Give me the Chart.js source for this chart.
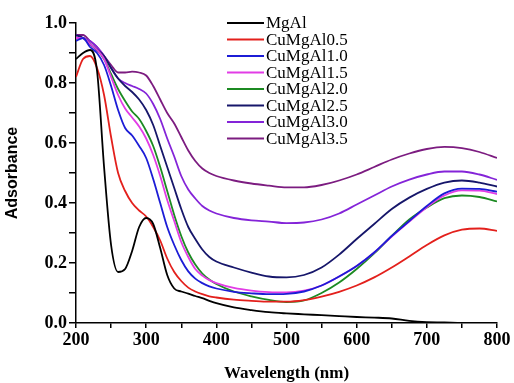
<!DOCTYPE html>
<html>
<head>
<meta charset="utf-8">
<script src="https://cdn.jsdelivr.net/npm/chart.js@4"></script>
<style>
  body { margin: 0; background: #fff; }
</style>
</head>
<body>
<canvas id="myChart" width="514" height="383"></canvas>
<script>
// wavelengths (nm) shared by all spectra
const wavelengths = [200, 210, 220, 230, 240, 250, 260, 270, 280, 290, 300, 310, 320, 330, 340, 350, 360, 370, 380, 390, 400,
  425, 450, 475, 500, 525, 550, 575, 600, 625, 650, 675, 700, 725, 750, 775, 800];

const seriesNames = ["MgAl", "CuMgAl0.5", "CuMgAl1.0", "CuMgAl1.5", "CuMgAl2.0", "CuMgAl2.5", "CuMgAl3.0", "CuMgAl3.5"];
const seriesColors = ["#000000", "#e3201c", "#1c1cd6", "#e23ce6", "#1c8a22", "#16166a", "#8424d8", "#7c1c80"];

const mgAl = [0.88, 0.90, 0.91, 0.84, 0.52, 0.26, 0.17, 0.18, 0.24, 0.32, 0.35, 0.33, 0.25, 0.16, 0.115, 0.105, 0.098, 0.09, 0.083, 0.074, 0.066,
  0.052, 0.043, 0.036, 0.032, 0.029, 0.026, 0.023, 0.02, 0.018, 0.015, 0.007, 0.003, 0.002, 0.0, 0.0, 0.0];
const cu05 = [0.82, 0.88, 0.89, 0.85, 0.76, 0.62, 0.50, 0.44, 0.40, 0.375, 0.355, 0.32, 0.275, 0.215, 0.17, 0.14, 0.118, 0.105, 0.096, 0.089, 0.085,
  0.078, 0.074, 0.071, 0.071, 0.076, 0.088, 0.104, 0.125, 0.152, 0.185, 0.222, 0.26, 0.292, 0.311, 0.315, 0.307];
const cu10 = [0.94, 0.95, 0.92, 0.90, 0.86, 0.79, 0.71, 0.65, 0.625, 0.59, 0.55, 0.48, 0.40, 0.32, 0.26, 0.21, 0.172, 0.148, 0.133, 0.122, 0.115,
  0.104, 0.099, 0.096, 0.097, 0.105, 0.125, 0.155, 0.19, 0.235, 0.29, 0.34, 0.39, 0.432, 0.448, 0.447, 0.438];
const cu15 = [0.95, 0.95, 0.93, 0.91, 0.88, 0.82, 0.76, 0.715, 0.685, 0.655, 0.615, 0.56, 0.49, 0.41, 0.34, 0.27, 0.22, 0.18, 0.158, 0.143, 0.133,
  0.117, 0.108, 0.103, 0.102, 0.108, 0.125, 0.155, 0.19, 0.235, 0.288, 0.338, 0.386, 0.425, 0.442, 0.441, 0.43];
const cu20 = [0.95, 0.95, 0.93, 0.91, 0.88, 0.83, 0.78, 0.74, 0.705, 0.68, 0.64, 0.59, 0.52, 0.44, 0.36, 0.29, 0.235, 0.195, 0.165, 0.145, 0.13,
  0.105, 0.089, 0.077, 0.07, 0.075, 0.1, 0.135, 0.18, 0.232, 0.29, 0.345, 0.385, 0.416, 0.425, 0.42, 0.405];
const cu25 = [0.96, 0.95, 0.93, 0.91, 0.89, 0.85, 0.815, 0.79, 0.77, 0.745, 0.71, 0.66, 0.59, 0.52, 0.45, 0.38, 0.32, 0.28, 0.245, 0.22, 0.205,
  0.185, 0.168, 0.155, 0.152, 0.16, 0.185, 0.228, 0.28, 0.33, 0.38, 0.418, 0.447, 0.468, 0.475, 0.468, 0.455];
const cu30 = [0.96, 0.95, 0.94, 0.92, 0.89, 0.85, 0.815, 0.80, 0.79, 0.78, 0.765, 0.73, 0.68, 0.615, 0.555, 0.49, 0.445, 0.415, 0.39, 0.375, 0.365,
  0.35, 0.342, 0.338, 0.333, 0.335, 0.345, 0.365, 0.395, 0.425, 0.455, 0.478, 0.495, 0.505, 0.505, 0.495, 0.477];
const cu35 = [0.96, 0.96, 0.94, 0.92, 0.89, 0.86, 0.835, 0.835, 0.838, 0.835, 0.825, 0.79, 0.745, 0.70, 0.665, 0.62, 0.575, 0.54, 0.515, 0.50, 0.49,
  0.475, 0.465, 0.458, 0.452, 0.452, 0.46, 0.475, 0.495, 0.52, 0.545, 0.565, 0.58, 0.587, 0.583, 0.57, 0.55];

const allSeries = [mgAl, cu05, cu10, cu15, cu20, cu25, cu30, cu35];

const serif = "'Liberation Serif', 'Times New Roman', serif";
const sans = "'Liberation Sans', Arial, sans-serif";

// legend drawn inside the plot, like the original figure
const innerLegend = {
  id: "innerLegend",
  afterDraw(chart) {
    const ctx = chart.ctx;
    ctx.save();
    ctx.font = "17px " + serif;
    ctx.textBaseline = "middle";
    chart.data.datasets.forEach((ds, i) => {
      const y = 23 + i * 16.5;
      ctx.strokeStyle = ds.borderColor;
      ctx.lineWidth = 2;
      ctx.beginPath();
      ctx.moveTo(227, y);
      ctx.lineTo(264, y);
      ctx.stroke();
      ctx.fillStyle = "#000";
      ctx.fillText(ds.label, 266, y + 1);
    });
    ctx.restore();
  }
};

const datasets = allSeries.map((vals, i) => ({
  label: seriesNames[i],
  data: wavelengths.map((w, j) => ({ x: w, y: vals[j] })),
  borderColor: seriesColors[i],
  borderWidth: 1.8,
  pointRadius: 0,
  cubicInterpolationMode: "monotone",
  fill: false
}));

const ctx = document.getElementById("myChart").getContext("2d");
new Chart(ctx, {
  type: "line",
  data: { datasets: datasets },
  options: {
    responsive: false,
    animation: false,
    layout: { padding: { left: 0, right: 17, top: 23, bottom: 0 } },
    plugins: { legend: { display: false }, tooltip: { enabled: false } },
    scales: {
      x: {
        type: "linear",
        min: 200,
        max: 800,
        afterFit: scale => { scale.height = 60; },
        border: { display: true, color: "#000", width: 1.5 },
        grid: { drawOnChartArea: false, drawTicks: true, tickLength: 5, color: "#000", lineWidth: 1.5 },
        ticks: {
          stepSize: 50,
          maxRotation: 0,
          autoSkip: false,
          padding: 2,
          color: "#000",
          font: { family: serif, size: 18, weight: "bold" },
          callback: v => (v % 100 === 0 ? v : "")
        },
        title: {
          display: true,
          text: "Wavelength (nm)",
          color: "#000",
          font: { family: serif, size: 17, weight: "bold", lineHeight: 1 },
          padding: { top: 0, bottom: 1 }
        }
      },
      y: {
        min: 0,
        max: 1.0,
        afterFit: scale => { scale.width = 76; },
        border: { display: true, color: "#000", width: 1.5 },
        grid: { drawOnChartArea: false, drawTicks: true, tickLength: 7, color: "#000", lineWidth: 1.5 },
        ticks: {
          stepSize: 0.1,
          autoSkip: false,
          padding: 2,
          color: "#000",
          font: { family: serif, size: 18, weight: "bold" },
          callback: v => (Math.round(v * 10) % 2 === 0 ? v.toFixed(1) : "")
        },
        title: {
          display: true,
          text: "Adsorbance",
          color: "#000",
          font: { family: sans, size: 16, weight: "bold", lineHeight: 1 },
          padding: { top: 5, bottom: 0 }
        }
      }
    }
  },
  plugins: [innerLegend]
});
</script>
</body>
</html>
